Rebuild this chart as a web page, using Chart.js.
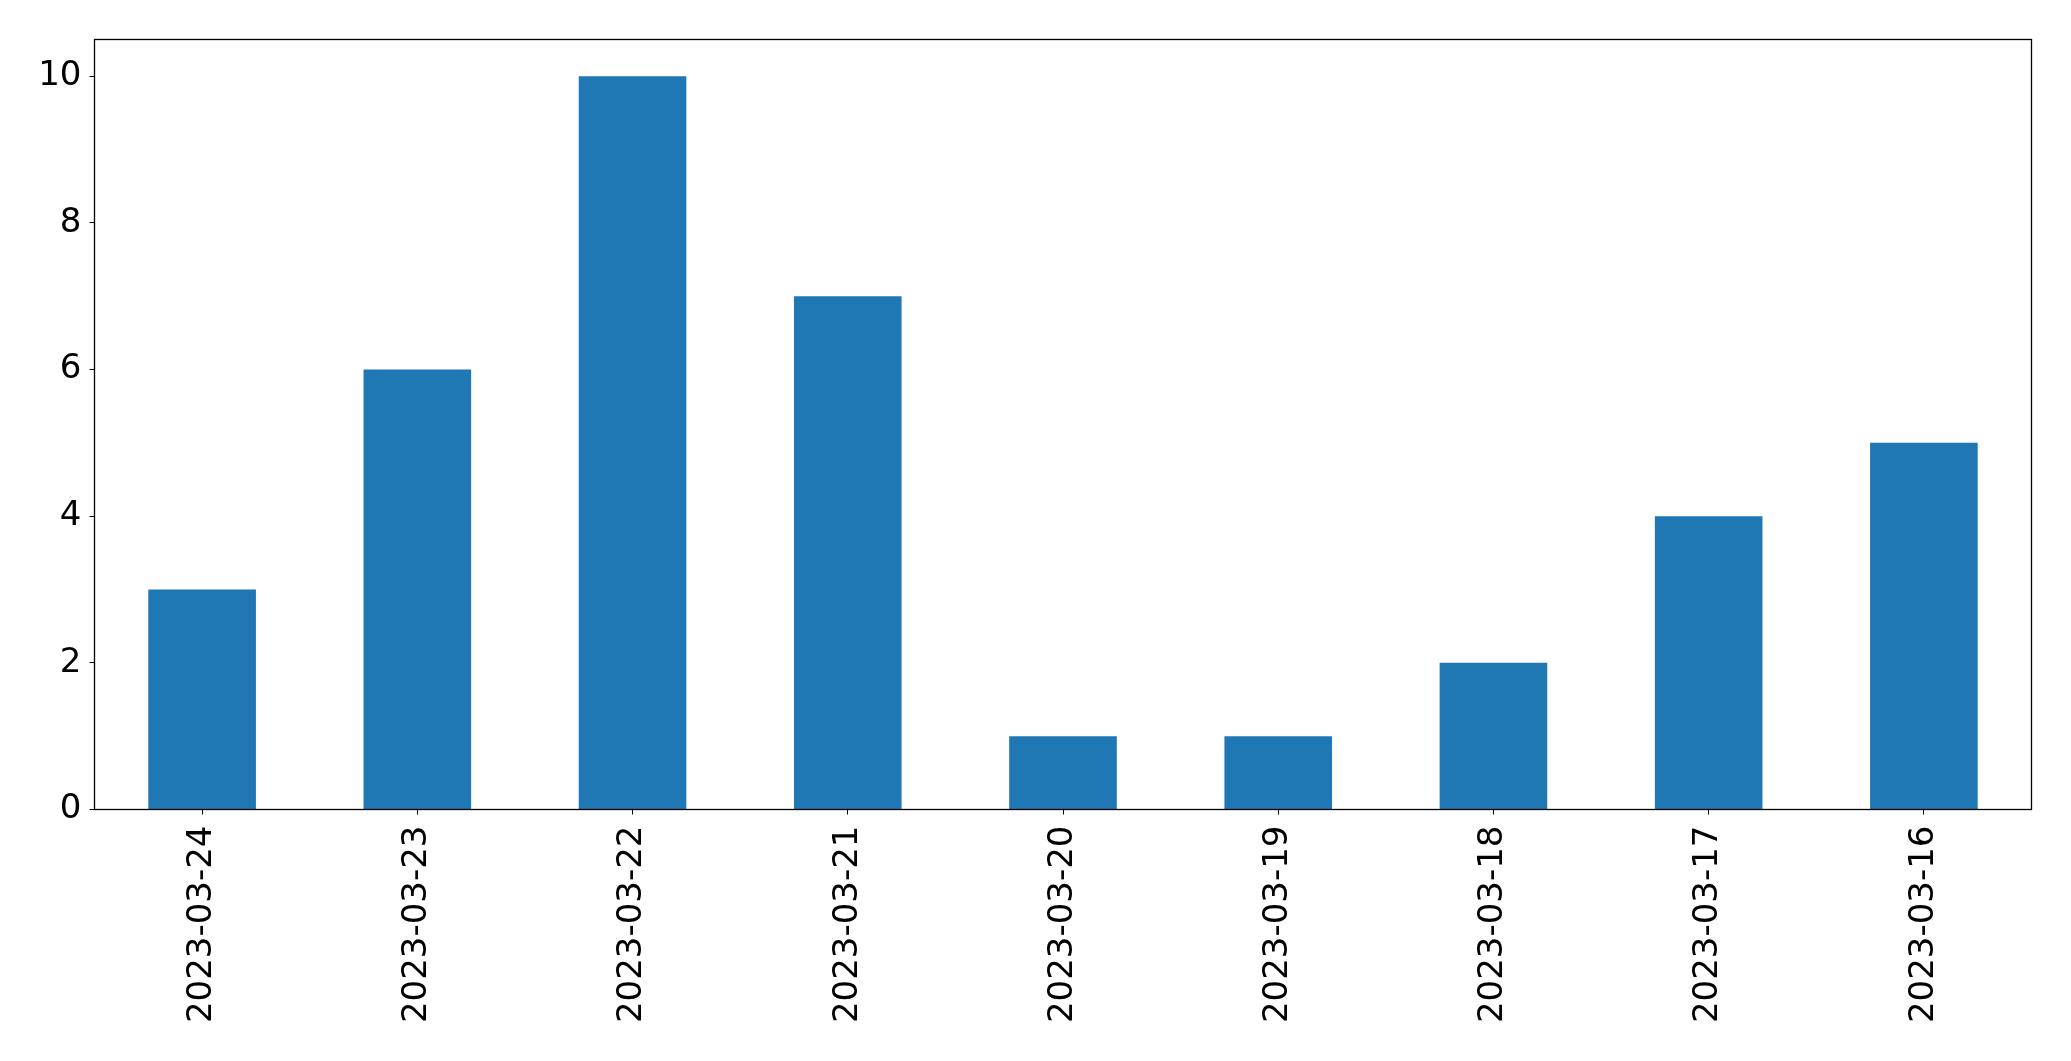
<!DOCTYPE html>
<html>
<head>
<meta charset="utf-8">
<script src="https://cdn.jsdelivr.net/npm/chart.js@4/dist/chart.umd.min.js"></script>
<style>
  html, body { margin: 0; padding: 0; background: #fff; }
  #wrap { width: 2071px; height: 1061px; }
</style>
</head>
<body>
<div id="wrap"><canvas id="chart" width="2071" height="1061"></canvas></div>
<script>
// dates as they appear on the x axis (newest first)
const dates = ["2023-03-24", "2023-03-23", "2023-03-22", "2023-03-21", "2023-03-20",
               "2023-03-19", "2023-03-18", "2023-03-17", "2023-03-16"];
const counts = [3, 6, 10, 7, 1, 1, 2, 4, 5];
const yTicks = [0, 2, 4, 6, 8, 10];

// box around the plot area, like matplotlib spines
const frame = {
  id: "frame",
  afterDraw(chart) {
    const { ctx, chartArea: a } = chart;
    ctx.save();
    ctx.strokeStyle = "#000";
    ctx.lineWidth = 1.3;
    ctx.strokeRect(a.left, a.top, a.right - a.left, a.bottom - a.top);
    ctx.restore();
  }
};

const font = { family: "'DejaVu Sans', sans-serif", size: 34 };

new Chart(document.getElementById("chart"), {
  type: "bar",
  data: {
    labels: dates,
    datasets: [{ data: counts, backgroundColor: "#1f77b4", barPercentage: 0.5, categoryPercentage: 1 }]
  },
  options: {
    responsive: false,
    animation: false,
    layout: { padding: { top: 39.5, right: 39.5, left: 0, bottom: 0 } },
    plugins: { legend: { display: false }, tooltip: { enabled: false } },
    scales: {
      x: {
        offset: true,
        grid: { drawOnChartArea: false, drawTicks: true, tickLength: 5, color: "#000", offset: false },
        border: { display: true, color: "#000" },
        ticks: { color: "#000", font, minRotation: 90, maxRotation: 90, padding: 11, autoSkip: false },
        afterFit(s) { s.height = 251.5; }
      },
      y: {
        min: 0,
        max: 10.5,
        grid: { drawOnChartArea: false, drawTicks: true, tickLength: 5, color: "#000" },
        border: { display: true, color: "#000" },
        ticks: { color: "#000", font, stepSize: 2, includeBounds: false, padding: 8 },
        afterBuildTicks(s) { s.ticks = yTicks.map(v => ({ value: v })); },
        afterFit(s) { s.width = 94.5; }
      }
    }
  },
  plugins: [frame]
});
</script>
</body>
</html>
